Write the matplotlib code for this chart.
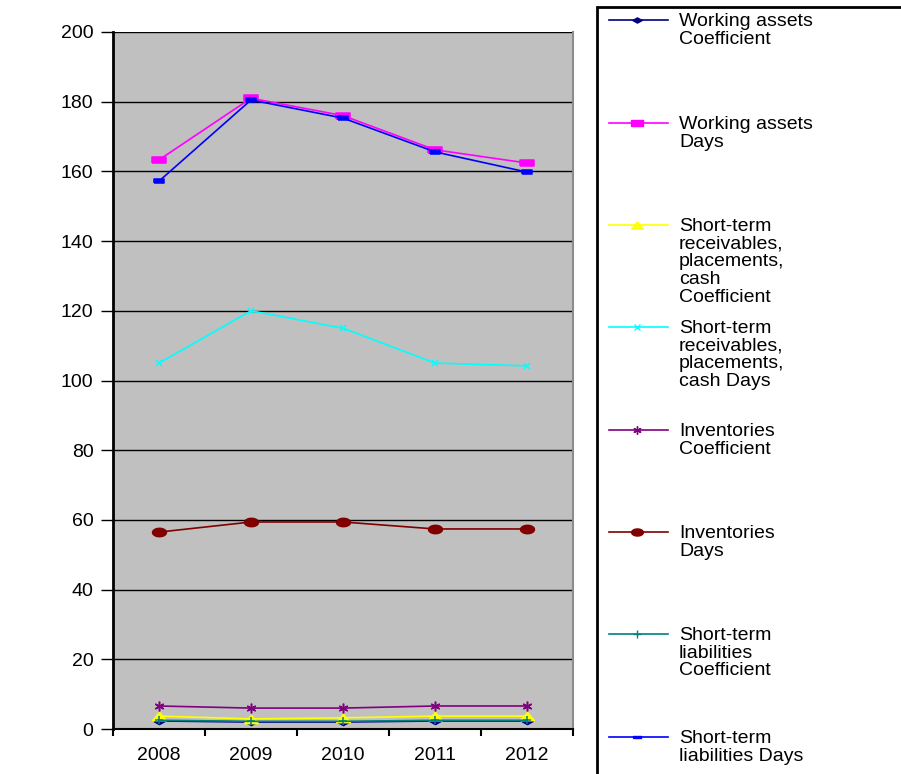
import matplotlib
matplotlib.use("Agg")
import matplotlib.pyplot as plt
import numpy as np
from matplotlib.lines import Line2D
from matplotlib.patches import Rectangle

plt.rcParams["font.family"] = ["Liberation Sans", "DejaVu Sans"]

years = ["2008", "2009", "2010", "2011", "2012"]

working_assets_coef = [2.3, 2.0, 2.0, 2.3, 2.3]
working_assets_days = [163.3, 181.0, 176.0, 166.2, 162.4]
receivables_coef = [3.7, 2.9, 3.2, 3.7, 3.7]
receivables_days = [105.0, 120.0, 115.0, 105.0, 104.2]
inventories_coef = [6.6, 6.0, 6.0, 6.6, 6.6]
inventories_days = [56.5, 59.4, 59.4, 57.4, 57.4]
liabilities_coef = [2.5, 2.2, 2.2, 2.5, 2.5]
liabilities_days = [157.2, 180.5, 175.3, 165.6, 159.8]

labels = [
    "Working assets\nCoefficient",
    "Working assets\nDays",
    "Short-term\nreceivables,\nplacements,\ncash\nCoefficient",
    "Short-term\nreceivables,\nplacements,\ncash Days",
    "Inventories\nCoefficient",
    "Inventories\nDays",
    "Short-term\nliabilities\nCoefficient",
    "Short-term\nliabilities Days",
]

# wide marker shapes (Excel-style)
wide_rect = [(-1, -0.5), (1, -0.5), (1, 0.5), (-1, 0.5), (-1, -0.5)]
thin_rect = [(-1, -0.3), (1, -0.3), (1, 0.3), (-1, 0.3), (-1, -0.3)]
wide_diamond = [(-1, 0), (0, 0.55), (1, 0), (0, -0.55), (-1, 0)]
wide_tri = [(-1, -0.6), (1, -0.6), (0, 0.6), (-1, -0.6)]
t = np.linspace(0, 2 * np.pi, 40)
wide_ellipse = list(zip(np.cos(t), 0.6 * np.sin(t)))

series = [
    (working_assets_coef, "#000080", wide_diamond, 8),
    (working_assets_days, "#FF00FF", wide_rect, 9.5),
    (receivables_coef, "#FFFF00", wide_tri, 10),
    (receivables_days, "#00FFFF", "x", 5),
    (inventories_coef, "#800080", (6, 2, 0), 7),
    (inventories_days, "#800000", wide_ellipse, 10),
    (liabilities_coef, "#008080", "+", 6),
    (liabilities_days, "#0000FF", thin_rect, 7.5),
]

W, H = 901, 774
fig = plt.figure(figsize=(W / 100, H / 100), dpi=100)
ax = fig.add_axes([113 / W, 1 - 729 / H, 460 / W, 697 / H])
ax.set_facecolor("#C0C0C0")

x = np.arange(len(years))
for vals, color, marker, ms in series:
    ax.plot(x, vals, color=color, lw=1.2, marker=marker, markersize=ms,
            markerfacecolor=color, markeredgecolor=color, markeredgewidth=1.1)

ax.set_xlim(-0.5, len(years) - 0.5)
ax.set_ylim(0, 200)
ax.set_yticks(np.arange(0, 201, 20))
ax.yaxis.grid(True, color="black", lw=1)
ax.set_axisbelow(True)

ax.set_xticks(x)
ax.set_xticklabels(years)
ax.set_xticks(np.arange(-0.5, len(years), 1), minor=True)
ax.tick_params(axis="x", which="major", length=0, pad=13, labelsize=14)
ax.tick_params(axis="x", which="minor", length=5, width=1.5, direction="out")
ax.tick_params(axis="y", length=9, width=1, direction="out", pad=5, labelsize=14)

ax.spines["left"].set_linewidth(2)
ax.spines["bottom"].set_linewidth(1.5)
ax.spines["top"].set_visible(False)
ax.spines["right"].set_color("#8C8C8C")
ax.spines["right"].set_linewidth(1.5)

# legend panel on the right
fig.add_artist(Rectangle((597 / W, -0.05), 0.5, 1.05 - 7 / H, transform=fig.transFigure,
                         facecolor="white", edgecolor="black", lw=2))
row_y = [20, 123, 225, 327, 430, 532, 634, 737]
for (vals, color, marker, ms), label, yp in zip(series, labels, row_y):
    fy = 1 - yp / H
    fig.add_artist(Line2D([609 / W, 668 / W], [fy, fy], transform=fig.transFigure,
                          color=color, lw=1.2))
    fig.add_artist(Line2D([637 / W], [fy], transform=fig.transFigure, color=color,
                          marker=marker, markersize=ms * 0.85,
                          markerfacecolor=color, markeredgecolor=color))
    fig.text(679 / W, 1 - (yp - 7) / H, label, fontsize=14, va="top", ha="left",
             linespacing=1.05)

fig.savefig("out.png", dpi=100)
